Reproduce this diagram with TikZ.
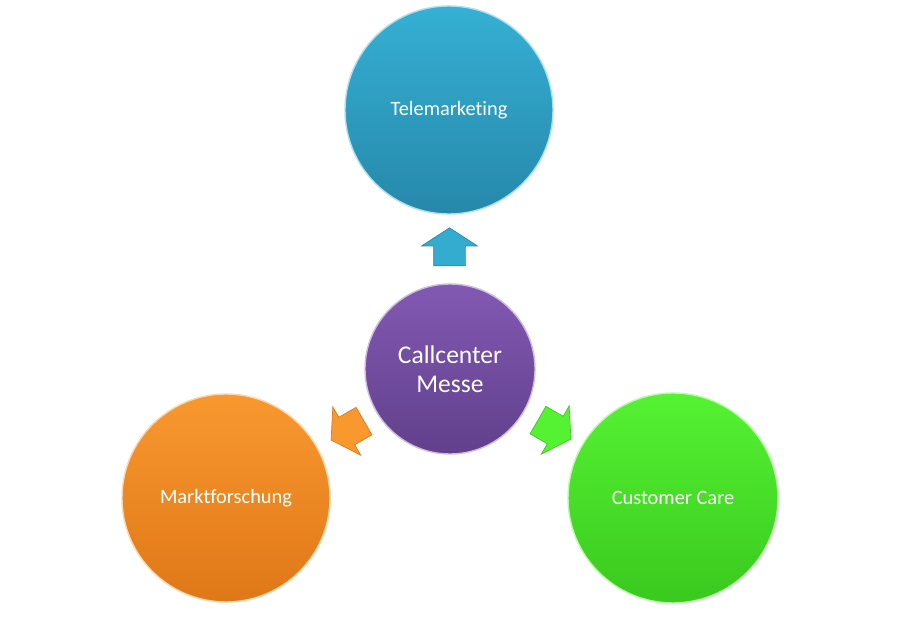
\documentclass[tikz,border=0pt]{standalone}
\usepackage{fontspec}
\setmainfont{Carlito}[Ligatures=NoCommon]
\usetikzlibrary{shapes.arrows}
\definecolor{telea}{HTML}{35B0D4}
\definecolor{teleb}{HTML}{2688AA}
\definecolor{messea}{HTML}{8259B2}
\definecolor{messeb}{HTML}{62408C}
\definecolor{markta}{HTML}{F9982F}
\definecolor{marktb}{HTML}{DF7818}
\definecolor{carea}{HTML}{55F233}
\definecolor{careb}{HTML}{3AC91E}
\begin{document}
\begin{tikzpicture}[x=0.03cm,y=0.03cm,
    ball/.style={circle,inner sep=0pt,text=white,align=center,line width=1.2pt,
      font=\fontsize{17.4}{20}\selectfont},
    pfeil/.style={single arrow,inner xsep=0pt,inner ysep=0.465cm,minimum height=1.14cm,
      single arrow head extend=0.36cm,single arrow tip angle=114,line width=0.6pt}]
    \useasboundingbox (0,0) rectangle (900,620);
    \node[ball,minimum size=6.24cm,top color=telea,bottom color=teleb,draw=telea!40!white] (tele) at (449,510) {Telemarketing};
    \node[ball,minimum size=5.1cm,top color=messea,bottom color=messeb,draw=messea!40!white,
      font=\fontsize{21.8}{24.7}\selectfont] (messe) at (450,251) {Callcenter\\Messe};
    \node[ball,minimum size=6.24cm,top color=markta,bottom color=marktb,draw=markta!40!white] (markt) at (226,122) {Marktforschung};
    \node[ball,minimum size=6.3cm,top color=carea,bottom color=careb,draw=carea!40!white] (care) at (673,122) {Customer Care};
    % pfeile
    \node[pfeil,fill=telea!90!teleb,draw=teleb,rotate=90] (hoch) at (449.5,368) {};
    \node[pfeil,fill=markta,draw=marktb,rotate=210] (links) at (352,192) {};
    \node[pfeil,fill=carea,draw=careb,rotate=-30] (rechts) at (550,193) {};
  \end{tikzpicture}
\end{document}
